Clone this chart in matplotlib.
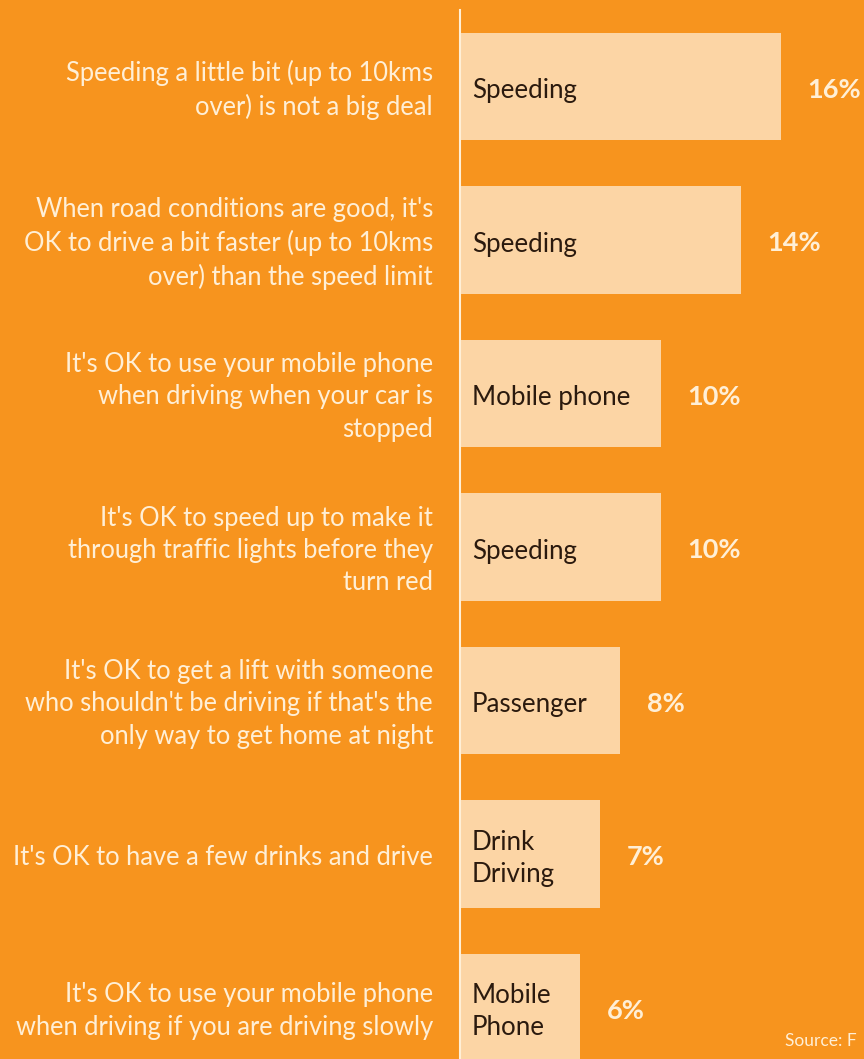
import matplotlib.pyplot as plt

# Survey statements, the behaviour category shown inside each bar, and % agreeing
statements = [
    "Speeding a little bit (up to 10kms\nover) is not a big deal",
    "When road conditions are good, it's\nOK to drive a bit faster (up to 10kms\nover) than the speed limit",
    "It's OK to use your mobile phone\nwhen driving when your car is\nstopped",
    "It's OK to speed up to make it\nthrough traffic lights before they\nturn red",
    "It's OK to get a lift with someone\nwho shouldn't be driving if that's the\nonly way to get home at night",
    "It's OK to have a few drinks and drive",
    "It's OK to use your mobile phone\nwhen driving if you are driving slowly",
]
categories = ["Speeding", "Speeding", "Mobile phone", "Speeding", "Passenger",
              "Drink\nDriving", "Mobile\nPhone"]
percent = [16, 14, 10, 10, 8, 7, 6]

bg = "#F7941E"
bar_col = "#FCD5A5"
light = "#FFEFD6"
font = "Lato"

fig = plt.figure(figsize=(8.64, 10.59), dpi=100, facecolor=bg)
ax = fig.add_axes([460 / 864, 0, 1 - 460 / 864, 1 - 10 / 1059])
ax.set_facecolor(bg)

pos = list(range(len(percent)))
ax.barh(pos, percent, height=0.7, color=bar_col, zorder=2)
ax.set_xlim(0, 404 / 20.06)
ax.set_ylim(6 + 51.5 / 153.5, -76.5 / 153.5)

for s in ["top", "right", "bottom"]:
    ax.spines[s].set_visible(False)
ax.spines["left"].set_color(light)
ax.spines["left"].set_linewidth(1.5)
ax.set_xticks([])
ax.set_yticks([])

for y, stmt, cat, p in zip(pos, statements, categories, percent):
    ax.annotate(stmt, xy=(0, y), xytext=(-19.5, -2.5), textcoords="offset points",
                ha="right", va="center", multialignment="right",
                fontsize=18.4, color=light, family=font, linespacing=1.36,
                annotation_clip=False)
    ax.annotate(cat, xy=(0, y), xytext=(8.5, -3), textcoords="offset points",
                ha="left", va="center", fontsize=18.6, color="#2B1A0E",
                family=font, linespacing=1.36, zorder=3)
    ax.annotate(f"{p}%", xy=(p, y), xytext=(19, -2.5), textcoords="offset points",
                ha="left", va="center", fontsize=19.5, color=light,
                family=font, fontweight="bold", annotation_clip=False)

fig.text(785 / 864, 1 - 1041 / 1059, "Source: F", fontsize=12.5, color=light,
         family=font, ha="left", va="center")

fig.savefig("out.png", dpi=100, facecolor=bg)
